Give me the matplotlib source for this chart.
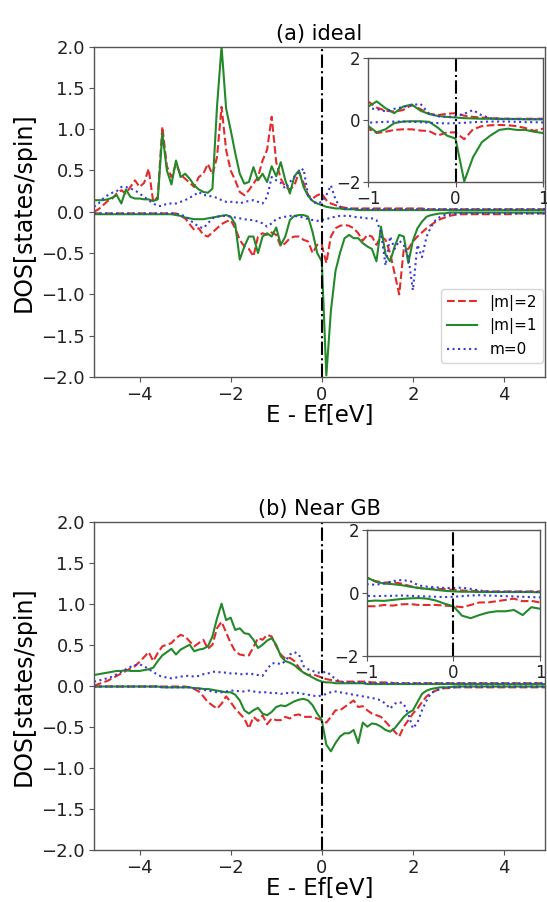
import numpy as np
import matplotlib
matplotlib.use("Agg")
import matplotlib.pyplot as plt

# Energy grid relative to the Fermi level (eV)
energy = np.round(np.arange(-5.0, 5.0001, 0.1), 1)

# ---------------- (a) ideal ----------------
a_up_m2 = [0.00, 0.03, 0.08, 0.13, 0.16, 0.22, 0.26, 0.22, 0.30, 0.38,
           0.30, 0.35, 0.52, 0.12, 0.18, 1.03, 0.55, 0.42, 0.58, 0.45,
           0.40, 0.35, 0.30, 0.42, 0.46, 0.58, 0.45, 0.66, 1.27, 0.75,
           0.50, 0.38, 0.24, 0.20, 0.26, 0.34, 0.42, 0.62, 0.75, 1.15,
           0.60, 0.40, 0.30, 0.27, 0.32, 0.48, 0.35, 0.20, 0.16, 0.20,
           0.22, 0.14, 0.10, 0.08, 0.06, 0.05, 0.04, 0.04, 0.04, 0.04,
           0.04, 0.04, 0.04, 0.04, 0.04, 0.04, 0.04, 0.04, 0.04, 0.04,
           0.04, 0.04, 0.04, 0.03, 0.03, 0.03, 0.03, 0.03, 0.03, 0.03,
           0.03, 0.03, 0.03, 0.03, 0.03, 0.03, 0.03, 0.03, 0.03, 0.03,
           0.03, 0.03, 0.03, 0.03, 0.03, 0.03, 0.03, 0.03, 0.03, 0.03,
           0.03]
a_up_m1 = [0.14, 0.14, 0.14, 0.15, 0.17, 0.20, 0.10, 0.27, 0.18, 0.16,
           0.16, 0.15, 0.15, 0.13, 0.15, 0.95, 0.50, 0.33, 0.62, 0.42,
           0.46, 0.40, 0.32, 0.27, 0.24, 0.23, 0.28, 1.27, 2.00, 1.25,
           0.99, 0.71, 0.46, 0.34, 0.36, 0.54, 0.38, 0.46, 0.36, 0.55,
           0.43, 0.60, 0.38, 0.22, 0.43, 0.50, 0.30, 0.19, 0.13, 0.10,
           0.08, 0.06, 0.05, 0.04, 0.04, 0.03, 0.03, 0.03, 0.02, 0.02,
           0.02, 0.02, 0.02, 0.02, 0.02, 0.02, 0.02, 0.02, 0.02, 0.02,
           0.02, 0.02, 0.02, 0.02, 0.02, 0.02, 0.02, 0.02, 0.02, 0.02,
           0.02, 0.02, 0.02, 0.02, 0.02, 0.02, 0.02, 0.02, 0.02, 0.02,
           0.02, 0.02, 0.02, 0.02, 0.02, 0.02, 0.02, 0.02, 0.02, 0.02,
           0.02]
a_up_m0 = [0.06, 0.10, 0.16, 0.20, 0.23, 0.25, 0.30, 0.30, 0.28, 0.26,
           0.22, 0.18, 0.14, 0.10, 0.07, 0.07, 0.10, 0.10, 0.10, 0.12,
           0.14, 0.17, 0.20, 0.24, 0.20, 0.20, 0.18, 0.17, 0.14, 0.12,
           0.12, 0.12, 0.10, 0.12, 0.13, 0.14, 0.12, 0.10, 0.18, 0.42,
           0.38, 0.35, 0.28, 0.36, 0.42, 0.48, 0.52, 0.20, 0.12, 0.10,
           0.12, 0.20, 0.32, 0.15, 0.06, 0.04, 0.04, 0.03, 0.03, 0.03,
           0.03, 0.03, 0.03, 0.03, 0.03, 0.03, 0.03, 0.03, 0.03, 0.03,
           0.03, 0.03, 0.03, 0.03, 0.03, 0.03, 0.03, 0.03, 0.03, 0.03,
           0.03, 0.03, 0.03, 0.03, 0.03, 0.03, 0.03, 0.03, 0.03, 0.03,
           0.03, 0.03, 0.03, 0.03, 0.03, 0.03, 0.03, 0.03, 0.03, 0.03,
           0.03]
a_dn_m2 = [-0.02, -0.02, -0.02, -0.02, -0.02, -0.02, -0.02, -0.02, -0.02, -0.02,
           -0.02, -0.02, -0.02, -0.02, -0.02, -0.02, -0.02, -0.02, -0.02, -0.05,
           -0.08, -0.15, -0.22, -0.20, -0.28, -0.30, -0.25, -0.20, -0.15, -0.12,
           -0.10, -0.20, -0.34, -0.42, -0.45, -0.54, -0.30, -0.26, -0.28, -0.25,
           -0.28, -0.42, -0.38, -0.32, -0.30, -0.30, -0.34, -0.36, -0.50, -0.40,
           -0.40, -0.62, -0.30, -0.20, -0.17, -0.16, -0.17, -0.20, -0.26, -0.35,
           -0.28, -0.30, -0.40, -0.30, -0.34, -0.50, -0.75, -1.00, -0.45, -0.45,
           -0.36, -0.30, -0.25, -0.20, -0.16, -0.12, -0.09, -0.07, -0.05, -0.04,
           -0.03, -0.03, -0.03, -0.03, -0.03, -0.03, -0.03, -0.03, -0.03, -0.03,
           -0.03, -0.03, -0.03, -0.02, -0.02, -0.02, -0.02, -0.02, -0.02, -0.02,
           -0.02]
a_dn_m1 = [-0.03, -0.03, -0.03, -0.03, -0.03, -0.03, -0.03, -0.03, -0.03, -0.03,
           -0.03, -0.03, -0.03, -0.03, -0.03, -0.03, -0.03, -0.03, -0.04, -0.05,
           -0.07, -0.08, -0.09, -0.09, -0.09, -0.08, -0.07, -0.06, -0.05, -0.04,
           -0.06, -0.15, -0.58, -0.42, -0.30, -0.30, -0.50, -0.30, -0.26, -0.30,
           -0.19, -0.40, -0.30, -0.10, -0.05, -0.04, -0.04, -0.06, -0.25, -0.50,
           -0.60, -1.98, -1.20, -0.72, -0.50, -0.32, -0.28, -0.32, -0.32, -0.38,
           -0.42, -0.45, -0.60, -0.18, -0.52, -0.60, -0.42, -0.28, -0.30, -0.62,
           -0.35, -0.20, -0.12, -0.06, -0.04, -0.03, -0.02, -0.02, -0.01, -0.01,
           -0.01, -0.01, -0.01, -0.01, -0.01, -0.01, -0.01, -0.01, -0.01, -0.01,
           -0.01, -0.01, -0.01, -0.01, -0.01, -0.01, -0.01, -0.01, -0.01, -0.01,
           -0.01]
a_dn_m0 = [-0.02, -0.02, -0.02, -0.02, -0.02, -0.02, -0.02, -0.02, -0.02, -0.02,
           -0.02, -0.02, -0.02, -0.02, -0.02, -0.02, -0.02, -0.02, -0.02, -0.04,
           -0.05, -0.10, -0.14, -0.18, -0.20, -0.14, -0.08, -0.06, -0.05, -0.05,
           -0.06, -0.07, -0.08, -0.09, -0.10, -0.10, -0.12, -0.14, -0.18, -0.14,
           -0.09, -0.07, -0.06, -0.05, -0.05, -0.06, -0.07, -0.09, -0.10, -0.11,
           -0.10, -0.09, -0.07, -0.06, -0.05, -0.05, -0.05, -0.06, -0.07, -0.07,
           -0.08, -0.08, -0.10, -0.25, -0.65, -0.30, -0.45, -0.35, -0.40, -0.55,
           -0.95, -0.40, -0.55, -0.30, -0.18, -0.10, -0.06, -0.04, -0.03, -0.03,
           -0.02, -0.02, -0.02, -0.02, -0.02, -0.02, -0.02, -0.02, -0.02, -0.02,
           -0.02, -0.02, -0.02, -0.02, -0.02, -0.02, -0.02, -0.02, -0.02, -0.02,
           -0.02]

# ---------------- (b) Near GB ----------------
b_up_m2 = [0.00, 0.02, 0.04, 0.06, 0.09, 0.12, 0.15, 0.18, 0.21, 0.24,
           0.29, 0.35, 0.41, 0.30, 0.40, 0.48, 0.50, 0.52, 0.58, 0.62,
           0.60, 0.54, 0.48, 0.52, 0.56, 0.45, 0.50, 0.70, 0.78, 0.65,
           0.52, 0.42, 0.38, 0.37, 0.37, 0.47, 0.58, 0.56, 0.62, 0.60,
           0.48, 0.38, 0.33, 0.34, 0.30, 0.22, 0.16, 0.13, 0.14, 0.12,
           0.10, 0.08, 0.07, 0.06, 0.05, 0.05, 0.05, 0.05, 0.05, 0.05,
           0.05, 0.04, 0.04, 0.04, 0.04, 0.04, 0.03, 0.03, 0.03, 0.03,
           0.03, 0.03, 0.03, 0.03, 0.03, 0.03, 0.03, 0.03, 0.03, 0.03,
           0.03, 0.03, 0.03, 0.03, 0.03, 0.03, 0.03, 0.03, 0.03, 0.03,
           0.03, 0.03, 0.03, 0.03, 0.03, 0.03, 0.03, 0.03, 0.03, 0.03,
           0.03]
b_up_m1 = [0.13, 0.14, 0.15, 0.16, 0.17, 0.18, 0.18, 0.19, 0.18, 0.18,
           0.18, 0.19, 0.20, 0.22, 0.30, 0.37, 0.41, 0.45, 0.38, 0.44,
           0.47, 0.50, 0.42, 0.44, 0.45, 0.48, 0.60, 0.82, 1.00, 0.80,
           0.83, 0.68, 0.70, 0.64, 0.63, 0.56, 0.46, 0.50, 0.55, 0.58,
           0.50, 0.36, 0.30, 0.28, 0.25, 0.20, 0.16, 0.13, 0.10, 0.07,
           0.05, 0.04, 0.04, 0.03, 0.03, 0.03, 0.03, 0.03, 0.03, 0.03,
           0.02, 0.02, 0.02, 0.02, 0.02, 0.02, 0.02, 0.02, 0.02, 0.02,
           0.02, 0.02, 0.02, 0.02, 0.02, 0.02, 0.02, 0.02, 0.02, 0.02,
           0.02, 0.02, 0.02, 0.02, 0.02, 0.02, 0.02, 0.02, 0.02, 0.02,
           0.02, 0.02, 0.02, 0.02, 0.02, 0.02, 0.02, 0.02, 0.02, 0.02,
           0.02]
b_up_m0 = [0.05, 0.06, 0.08, 0.09, 0.11, 0.14, 0.17, 0.20, 0.23, 0.25,
           0.26, 0.24, 0.20, 0.17, 0.13, 0.11, 0.10, 0.09, 0.10, 0.11,
           0.12, 0.12, 0.11, 0.12, 0.14, 0.15, 0.17, 0.17, 0.16, 0.16,
           0.15, 0.15, 0.14, 0.14, 0.15, 0.14, 0.13, 0.12, 0.20, 0.27,
           0.28, 0.26, 0.30, 0.38, 0.41, 0.38, 0.24, 0.20, 0.18, 0.16,
           0.16, 0.17, 0.13, 0.08, 0.05, 0.04, 0.04, 0.04, 0.04, 0.04,
           0.03, 0.03, 0.03, 0.03, 0.03, 0.03, 0.03, 0.03, 0.03, 0.03,
           0.03, 0.03, 0.03, 0.03, 0.03, 0.03, 0.03, 0.03, 0.03, 0.03,
           0.03, 0.03, 0.03, 0.03, 0.03, 0.03, 0.03, 0.03, 0.03, 0.03,
           0.03, 0.03, 0.03, 0.03, 0.03, 0.03, 0.03, 0.03, 0.03, 0.03,
           0.03]
b_dn_m2 = [-0.01, -0.01, -0.01, -0.01, -0.01, -0.01, -0.01, -0.01, -0.01, -0.01,
           -0.01, -0.01, -0.01, -0.01, -0.01, -0.01, -0.01, -0.01, -0.01, -0.01,
           -0.01, -0.02, -0.04, -0.07, -0.13, -0.20, -0.24, -0.28, -0.22, -0.13,
           -0.20, -0.28, -0.34, -0.40, -0.52, -0.38, -0.43, -0.36, -0.47, -0.40,
           -0.42, -0.42, -0.38, -0.40, -0.36, -0.35, -0.38, -0.38, -0.38, -0.40,
           -0.42, -0.45, -0.38, -0.30, -0.30, -0.26, -0.22, -0.18, -0.26, -0.25,
           -0.30, -0.34, -0.36, -0.38, -0.44, -0.50, -0.56, -0.62, -0.50, -0.42,
           -0.34, -0.28, -0.20, -0.13, -0.09, -0.06, -0.04, -0.03, -0.03, -0.02,
           -0.02, -0.02, -0.02, -0.02, -0.02, -0.02, -0.02, -0.02, -0.02, -0.02,
           -0.02, -0.02, -0.02, -0.02, -0.02, -0.02, -0.02, -0.02, -0.02, -0.02,
           -0.02]
b_dn_m1 = [-0.01, -0.01, -0.01, -0.01, -0.01, -0.01, -0.01, -0.01, -0.01, -0.01,
           -0.01, -0.01, -0.01, -0.01, -0.01, -0.02, -0.02, -0.02, -0.02, -0.02,
           -0.02, -0.02, -0.03, -0.03, -0.04, -0.04, -0.05, -0.06, -0.07, -0.08,
           -0.08, -0.11, -0.18, -0.30, -0.34, -0.30, -0.27, -0.34, -0.36, -0.32,
           -0.26, -0.24, -0.25, -0.22, -0.19, -0.17, -0.16, -0.18, -0.24, -0.34,
           -0.42, -0.72, -0.80, -0.70, -0.62, -0.58, -0.58, -0.54, -0.70, -0.45,
           -0.50, -0.46, -0.47, -0.50, -0.54, -0.56, -0.52, -0.45, -0.38, -0.33,
           -0.30, -0.20, -0.10, -0.06, -0.04, -0.03, -0.02, -0.02, -0.02, -0.01,
           -0.01, -0.01, -0.01, -0.01, -0.01, -0.01, -0.01, -0.01, -0.01, -0.01,
           -0.01, -0.01, -0.01, -0.01, -0.01, -0.01, -0.01, -0.01, -0.01, -0.01,
           -0.01]
b_dn_m0 = [-0.01, -0.01, -0.01, -0.01, -0.01, -0.01, -0.01, -0.01, -0.01, -0.01,
           -0.01, -0.01, -0.01, -0.01, -0.01, -0.02, -0.02, -0.02, -0.02, -0.02,
           -0.02, -0.02, -0.03, -0.04, -0.05, -0.06, -0.07, -0.08, -0.08, -0.07,
           -0.06, -0.06, -0.07, -0.07, -0.06, -0.07, -0.08, -0.08, -0.08, -0.09,
           -0.09, -0.10, -0.09, -0.09, -0.08, -0.09, -0.10, -0.11, -0.12, -0.13,
           -0.12, -0.10, -0.08, -0.07, -0.08, -0.09, -0.10, -0.11, -0.12, -0.13,
           -0.14, -0.15, -0.16, -0.18, -0.22, -0.28, -0.22, -0.20, -0.22, -0.35,
           -0.52, -0.45, -0.30, -0.18, -0.09, -0.06, -0.04, -0.02, -0.02, -0.02,
           -0.01, -0.01, -0.01, -0.01, -0.01, -0.01, -0.01, -0.01, -0.01, -0.01,
           -0.01, -0.01, -0.01, -0.01, -0.01, -0.01, -0.01, -0.01, -0.01, -0.01,
           -0.01]

panel_titles = ["(a) ideal", "(b) Near GB"]
legend_labels = ["|m|=2", "|m|=1", "m=0"]
main_yticks = [-2.0, -1.5, -1.0, -0.5, 0.0, 0.5, 1.0, 1.5, 2.0]
main_xticks = [-4, -2, 0, 2, 4]
inset_xticks = [-1, 0, 1]
inset_yticks = [-2, 0, 2]

RED, GREEN, BLUE = "#e32b2b", "#23892a", "#3a3ad6"
SPINE = "#555555"

W, H = 547, 902
fig = plt.figure(figsize=(W / 100, H / 100), dpi=100)


def frac(left, top, right, bottom):
    return [left / W, 1 - bottom / H, (right - left) / W, (bottom - top) / H]


def draw_curves(ax, up, dn, with_labels=False):
    styles = [(RED, "--"), (GREEN, "-"), (BLUE, ":")]
    for k, ((c, ls), u, d) in enumerate(zip(styles, up, dn)):
        lab = legend_labels[k] if with_labels else None
        ax.plot(energy, u, color=c, ls=ls, lw=1.5, label=lab)
        ax.plot(energy, d, color=c, ls=ls, lw=1.5)
    ax.axvline(0, color="black", ls="-.", lw=1.5)


def style_spines(ax):
    for s in ax.spines.values():
        s.set_color(SPINE)
        s.set_linewidth(1.0)
    ax.tick_params(colors=SPINE, labelcolor="#222222")


panels = [
    dict(main=(94, 46.5, 545, 377), inset=(368, 58, 543, 182),
         up=(a_up_m2, a_up_m1, a_up_m0), dn=(a_dn_m2, a_dn_m1, a_dn_m0)),
    dict(main=(94, 521.7, 545, 849.7), inset=(366.7, 530, 540, 656),
         up=(b_up_m2, b_up_m1, b_up_m0), dn=(b_dn_m2, b_dn_m1, b_dn_m0)),
]

for i, p in enumerate(panels):
    ax = fig.add_axes(frac(*p["main"]))
    draw_curves(ax, p["up"], p["dn"], with_labels=(i == 0))
    ax.set_xlim(-5, 4.9)
    ax.set_ylim(-2, 2)
    ax.set_xticks(main_xticks)
    ax.set_yticks(main_yticks)
    ax.set_yticklabels([f"{v:.1f}".replace("-", "\u2212") for v in main_yticks])
    ax.tick_params(labelsize=13, pad=3)
    style_spines(ax)
    ax.set_title(panel_titles[i], fontsize=15, pad=5)
    ax.set_xlabel("E - Ef[eV]", fontsize=16.5, labelpad=0)
    ax.set_ylabel("DOS[states/spin]", fontsize=17, labelpad=4)
    if i == 0:
        ax.legend(loc="lower right", bbox_to_anchor=(0.996, 0.042),
                  borderaxespad=0, fontsize=11, handlelength=2.0)

    ins = fig.add_axes(frac(*p["inset"]))
    ins.set_facecolor("white")
    draw_curves(ins, p["up"], p["dn"])
    ins.set_xlim(-1, 1)
    ins.set_ylim(-2, 2)
    ins.set_xticks(inset_xticks)
    ins.set_yticks(inset_yticks)
    ins.tick_params(labelsize=12, pad=2)
    style_spines(ins)

fig.savefig("out.png", dpi=100)
